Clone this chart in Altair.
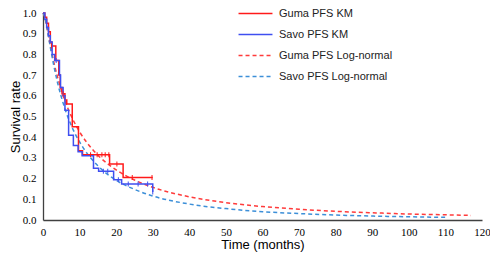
import altair as alt
import pandas as pd

# ---- data ----
guma_km_t = [0, 0.5, 1.0, 1.5, 2.0, 2.4, 3.5, 4.3, 4.7, 5.2, 6.0, 6.5, 8.0, 9.7, 10.8, 18.2, 21.9, 30.0]
guma_km_s = [1.0, 0.98, 0.95, 0.91, 0.86, 0.84, 0.77, 0.70, 0.64, 0.61, 0.58, 0.56, 0.45, 0.335, 0.315, 0.27, 0.205, 0.205]

savo_km_t = [0, 0.5, 1.0, 1.5, 2.0, 2.5, 3.2, 4.5, 4.8, 5.5, 6.0, 7.0, 8.3, 9.6, 10.7, 13.8, 15.2, 19.3, 21.5, 30.0]
savo_km_s = [1.0, 0.97, 0.93, 0.89, 0.86, 0.80, 0.77, 0.70, 0.64, 0.60, 0.53, 0.41, 0.36, 0.33, 0.31, 0.25, 0.235, 0.195, 0.174, 0.135]

guma_ln_t = [0, 0.5, 1, 2, 3, 4, 5, 6, 8, 10, 12, 15, 20, 25, 30, 40, 50, 60, 70, 80, 90, 100, 110, 117]
guma_ln_s = [1.0, 0.979, 0.936, 0.843, 0.759, 0.689, 0.628, 0.576, 0.492, 0.426, 0.374, 0.313, 0.242,
             0.193, 0.158, 0.112, 0.084, 0.065, 0.052, 0.042, 0.035, 0.029, 0.025, 0.022]

savo_ln_t = [0, 0.5, 1, 2, 3, 4, 5, 6, 8, 10, 12, 15, 20, 25, 30, 40, 50, 60, 70, 80, 90, 100, 110]
savo_ln_s = [1.0, 0.981, 0.937, 0.835, 0.742, 0.662, 0.595, 0.537, 0.446, 0.377, 0.323, 0.262, 0.192,
             0.148, 0.116, 0.077, 0.055, 0.040, 0.031, 0.024, 0.019, 0.0155, 0.0128]

guma_cens_t = [2.3, 5.5, 13.0, 14.8, 16.1, 17.0, 18.0, 20.2, 24.4, 29.8]
guma_cens_s = [0.84, 0.61, 0.315, 0.315, 0.315, 0.315, 0.315, 0.27, 0.205, 0.205]
savo_cens_t = [3.6, 16.5, 17.7, 20.6, 23.3, 26.0, 28.6, 30.0]
savo_cens_s = [0.77, 0.235, 0.235, 0.195, 0.174, 0.174, 0.174, 0.135]

series_names = ["Guma PFS KM", "Savo PFS KM", "Guma PFS Log-normal", "Savo PFS Log-normal"]
series_colors = ["#FF1A1A", "#3F4FF0", "#FF3B3B", "#3C8FD8"]
series_dash = [[1, 0], [1, 0], [4, 3], [4, 3]]

x_ticks = list(range(0, 121, 10))
y_ticks = [round(i / 10, 1) for i in range(0, 11)]

# ---- tables ----
km = pd.concat([
    pd.DataFrame({"t": guma_km_t, "s": guma_km_s, "series": series_names[0]}),
    pd.DataFrame({"t": savo_km_t, "s": savo_km_s, "series": series_names[1]}),
])
ln = pd.concat([
    pd.DataFrame({"t": guma_ln_t, "s": guma_ln_s, "series": series_names[2]}),
    pd.DataFrame({"t": savo_ln_t, "s": savo_ln_s, "series": series_names[3]}),
])
cg = pd.DataFrame({"t": guma_cens_t, "s": guma_cens_s})
cs = pd.DataFrame({"t": savo_cens_t, "s": savo_cens_s})

xenc = alt.X("t:Q", scale=alt.Scale(domain=[0, 120], nice=False),
             axis=alt.Axis(values=x_ticks, title="Time (months)", labelPadding=6, titlePadding=1,
                           labelOverlap=False, labelFlush=False, tickCount=13))
yenc = alt.Y("s:Q", scale=alt.Scale(domain=[0, 1], nice=False),
             axis=alt.Axis(values=y_ticks, format=".1f", title="Survival rate", labelPadding=7,
                           titlePadding=0, labelOverlap=False, labelFlush=False, tickCount=11))

color = alt.Color("series:N", scale=alt.Scale(domain=series_names, range=series_colors),
                  sort=series_names,
                  legend=alt.Legend(title=None, orient="none", legendX=206, legendY=-6,
                                    symbolType="M-3,0H3", symbolSize=128, symbolStrokeWidth=1.5,
                                    symbolFillColor="transparent",
                                    labelOffset=17, rowPadding=9, padding=0,
                                    labelFont="Liberation Sans", labelFontSize=11,
                                    labelColor="#222222"))
dash = alt.StrokeDash("series:N", scale=alt.Scale(domain=series_names, range=series_dash),
                      sort=series_names, legend=None)

km_layer = alt.Chart(km).mark_line(interpolate="step-after", strokeWidth=1.5).encode(
    x=xenc, y=yenc, color=color, strokeDash=dash, detail="series:N")
ln_layer = alt.Chart(ln).mark_line(interpolate="monotone", strokeWidth=1.5).encode(
    x=xenc, y=yenc, color=color, strokeDash=dash, detail="series:N")
cg_layer = alt.Chart(cg).mark_tick(orient="vertical", size=5, thickness=1, color="#FF1A1A", opacity=1).encode(
    x=xenc, y=yenc)
cs_layer = alt.Chart(cs).mark_tick(orient="vertical", size=5, thickness=1, color="#3F4FF0", opacity=1).encode(
    x=xenc, y=yenc)

chart = alt.layer(ln_layer, km_layer, cg_layer, cs_layer).properties(
    width=439, height=207,
    autosize=alt.AutoSizeParams(type="none"),
    padding={"left": 35, "top": 5, "right": 8, "bottom": 33},
).configure_view(stroke=None).configure_axis(
    grid=False, ticks=False, domainColor="#404040", domainWidth=1.3,
    labelOverlap=False,
    labelFont="Liberation Serif", labelFontSize=11, labelColor="#000000",
    titleFont="Liberation Sans", titleFontSize=13, titleFontWeight="normal", titleColor="#000000",
)

chart.save("out.html", embed_options={"renderer": "svg", "actions": False})
